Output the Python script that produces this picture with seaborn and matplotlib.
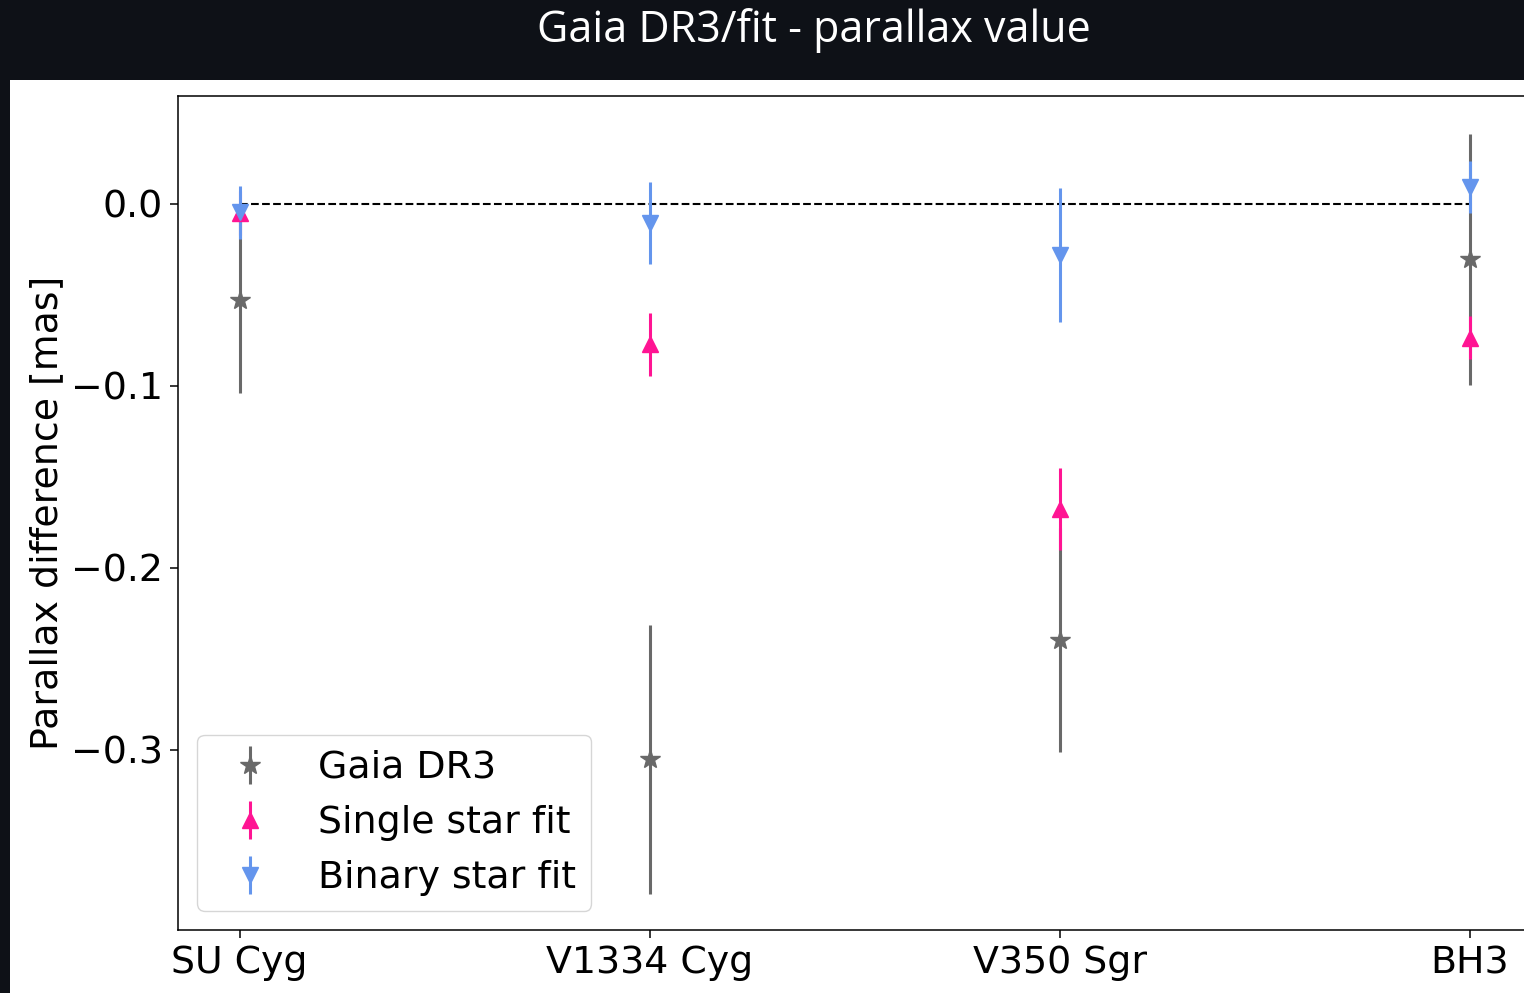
import numpy as np
import matplotlib
matplotlib.use("Agg")
import matplotlib.pyplot as plt
import seaborn as sns
from matplotlib.patches import Rectangle

sns.set_style("ticks")
plt.rcParams['font.family'] = ['DejaVu Sans']
plt.rcParams.update({"text.color": "black", "axes.labelcolor": "black",
                     "xtick.color": "black", "ytick.color": "black"})

# data
stars = ["SU Cyg", "V1334 Cyg", "V350 Sgr", "BH3"]
gaia_diff = [-0.0527, -0.3052, -0.2396, -0.0305]
gaia_err = [0.051, 0.0739, 0.0615, 0.069]
single_diff = [-0.0050, -0.0772, -0.1676, -0.0734]
single_err = [0.012, 0.0173, 0.0225, 0.0118]
binary_diff = [-0.0047, -0.0105, -0.0280, 0.0093]
binary_err = [0.0146, 0.0225, 0.0368, 0.0143]

xpos = np.arange(len(stars))

fig = plt.figure(figsize=(15.24, 9.93), dpi=100, facecolor="#0e1117")
# white panel the plot sits in
fig.patches.append(Rectangle((10 / 1524, 0), 1, 1 - 80 / 993, transform=fig.transFigure,
                             facecolor="white", edgecolor="none", zorder=-5))
fig.text(814 / 1524, 1 - 31 / 993, "Gaia DR3/fit - parallax value", color="white",
         fontsize=31, family=["Open Sans", "DejaVu Sans"], ha="center", va="center")

ax = fig.add_axes([178 / 1524, 1 - 930 / 993, (1531.5 - 178) / 1524, (930 - 96) / 993])
ax.set_zorder(3)
ax.set_facecolor("white")

fs = 27.3
ax.hlines(0, xpos[0], xpos[-1], colors="black", linestyles="--", linewidth=1.5, zorder=1)

ax.errorbar(xpos, gaia_diff, yerr=gaia_err, fmt="*", color="dimgray", ms=15,
            elinewidth=2.2, label="Gaia DR3")
ax.errorbar(xpos, single_diff, yerr=single_err, fmt="^", color="deeppink", ms=11,
            elinewidth=2.2, label="Single star fit")
ax.errorbar(xpos, binary_diff, yerr=binary_err, fmt="v", color="cornflowerblue", ms=11,
            elinewidth=2.2, label="Binary star fit")

ax.set_xlim(-0.15, 3.15)
ax.set_ylim(-0.3989, 0.0593)
ax.set_xticks(xpos)
ax.set_xticklabels(stars)
ax.set_yticks([0.0, -0.1, -0.2, -0.3])
ax.set_yticklabels(["0.0", "\u22120.1", "\u22120.2", "\u22120.3"])
ax.tick_params(labelsize=fs, length=6, width=1.1, color="black", labelcolor="black", pad=5)
ax.set_ylabel("Parallax difference [mas]", fontsize=fs, labelpad=4, color="black")
for sp in ax.spines.values():
    sp.set_linewidth(1.1)
    sp.set_color("black")

leg = ax.legend(loc="lower left", fontsize=fs, frameon=True)
for t in leg.get_texts():
    t.set_color("black")

fig.savefig("out.png", dpi=100, facecolor=fig.get_facecolor())
